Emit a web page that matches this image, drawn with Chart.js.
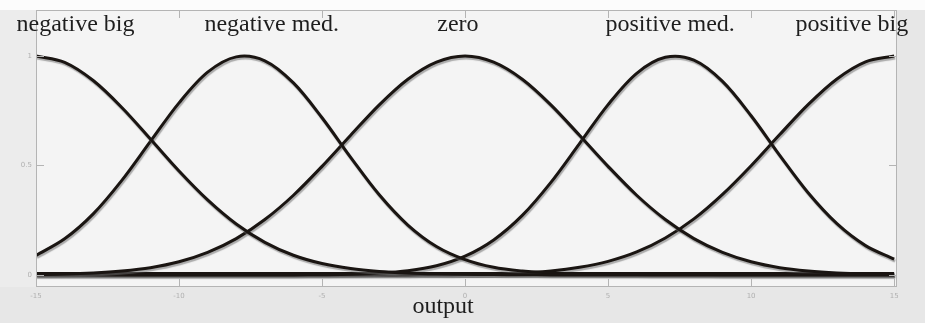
<!DOCTYPE html>
<html>
<head>
<meta charset="utf-8">
<script src="https://cdn.jsdelivr.net/npm/chart.js@4"></script>
<style>
  html, body { margin: 0; padding: 0; background: #e7e7e7; }
  #wrap { width: 925px; height: 323px; }
</style>
</head>
<body>
<div id="wrap"><canvas id="mf"></canvas></div>
<script>
// universe of discourse for "output"
const xValues = [-15,-14,-13,-12,-11,-10,-9,-8,-7,-6,-5,-4,-3,-2,-1,0,1,2,3,4,5,6,7,8,9,10,11,12,13,14,15];

// membership degrees
const negBig = [1,0.971,0.888,0.765,0.621,0.475,0.343,0.233,0.149,0.090,0.052,0.029,0.016,0.009,0.005,0.003,0.002,0.001,0,0,0,0,0,0,0,0,0,0,0,0,0];
const negMed = [0.089,0.165,0.279,0.432,0.610,0.786,0.926,0.996,0.978,0.877,0.718,0.537,0.366,0.228,0.130,0.070,0.035,0.018,0.009,0.005,0.003,0.002,0.001,0.001,0,0,0,0,0,0,0];
const zero   = [0.002,0.004,0.009,0.018,0.033,0.060,0.103,0.166,0.253,0.364,0.496,0.638,0.777,0.894,0.972,1,0.972,0.894,0.777,0.638,0.496,0.364,0.253,0.166,0.103,0.060,0.033,0.018,0.009,0.004,0.002];
const posMed = [0,0,0,0,0,0,0,0,0,0,0.001,0.003,0.008,0.019,0.042,0.086,0.160,0.272,0.423,0.600,0.778,0.921,0.994,0.981,0.884,0.727,0.546,0.374,0.234,0.134,0.072];
const posBig = [0,0,0,0,0,0,0,0,0,0,0,0,0,0,0.001,0.002,0.004,0.009,0.018,0.035,0.062,0.105,0.169,0.256,0.368,0.499,0.641,0.779,0.895,0.973,1];

const mfNames = ['negative big', 'negative med.', 'zero', 'positive med.', 'positive big'];
const mfSeries = [negBig, negMed, zero, posMed, posBig];

// flat line along the bottom
const baseX = [-15, 15];
const baseY = [0.004, 0.004];

const xTicks = [-15, -10, -5, 0, 5, 10, 15];
const yTicks = [0, 0.5, 1];
const axisName = 'output';

const ink = '#1a1512';

const datasets = mfSeries.map((ys, i) => ({
  label: mfNames[i],
  data: xValues.map((x, j) => ({ x: x, y: ys[j] })),
  borderColor: ink,
  borderWidth: 3,
  pointRadius: 0,
  tension: 0.33,
  fill: false
}));
datasets.push({
  label: 'base',
  data: baseX.map((x, j) => ({ x: x, y: baseY[j] })),
  borderColor: ink,
  borderWidth: 4,
  pointRadius: 0,
  fill: false
});

// backgrounds, frame, inward ticks and the text labels
const decor = {
  id: 'decor',
  beforeDraw(chart) {
    const ctx = chart.ctx, a = chart.chartArea;
    ctx.save();
    ctx.fillStyle = '#e7e7e7';
    ctx.fillRect(0, 0, chart.width, chart.height);
    ctx.fillStyle = '#ececec';
    ctx.fillRect(0, 0, a.left, a.bottom);
    ctx.fillStyle = '#fcfcfc';
    ctx.fillRect(0, 0, chart.width, a.top);
    ctx.fillStyle = '#f4f4f4';
    ctx.fillRect(a.left, a.top, a.right - a.left, a.bottom - a.top);
    ctx.restore();
  },
  beforeDatasetsDraw(chart) {
    const ctx = chart.ctx;
    ctx.save();
    ctx.shadowColor = 'rgba(110,110,110,0.55)';
    ctx.shadowOffsetX = 1;
    ctx.shadowOffsetY = 2;
    ctx.shadowBlur = 1;
  },
  afterDatasetsDraw(chart) {
    chart.ctx.restore();
  },
  afterDraw(chart, args, opts) {
    const ctx = chart.ctx, a = chart.chartArea;
    const xs = chart.scales.x, ys = chart.scales.y;
    ctx.save();
    ctx.strokeStyle = '#b4b4b4';
    ctx.lineWidth = 1;
    ctx.strokeRect(a.left + 0.5, a.top + 0.5, a.right - a.left - 1, a.bottom - a.top - 1);
    ctx.beginPath();
    xTicks.forEach(v => {
      const px = Math.round(xs.getPixelForValue(v)) + 0.5;
      ctx.moveTo(px, a.bottom); ctx.lineTo(px, a.bottom - 8);
      ctx.moveTo(px, a.top); ctx.lineTo(px, a.top + 8);
    });
    yTicks.forEach(v => {
      const py = Math.round(ys.getPixelForValue(v)) + 0.5;
      ctx.moveTo(a.left, py); ctx.lineTo(a.left + 8, py);
      ctx.moveTo(a.right, py); ctx.lineTo(a.right - 8, py);
    });
    ctx.stroke();

    ctx.fillStyle = '#1e1e1e';
    ctx.font = '24px "Liberation Serif", "Times New Roman", serif';
    ctx.textAlign = 'center';
    ctx.textBaseline = 'alphabetic';
    mfNames.forEach((name, i) => {
      ctx.fillText(name, xs.getPixelForValue(opts.nameAt[i]), 31);
    });
    ctx.fillText(axisName, xs.getPixelForValue(opts.titleAt), 313);
    ctx.restore();
  }
};

new Chart(document.getElementById('mf'), {
  type: 'line',
  data: { datasets },
  plugins: [decor],
  options: {
    responsive: true,
    maintainAspectRatio: false,
    animation: false,
    layout: { padding: { top: 10, right: 28, left: 0, bottom: 0 } },
    plugins: {
      legend: { display: false },
      tooltip: { enabled: false },
      decor: { nameAt: [-13.62, -6.76, -0.25, 7.17, 13.52], titleAt: -0.77 }
    },
    scales: {
      x: {
        type: 'linear',
        min: -15,
        max: 15.1,
        afterBuildTicks: s => { s.ticks = xTicks.map(v => ({ value: v })); },
        afterFit: s => { s.height = 36; },
        grid: { display: false, drawTicks: false },
        border: { display: false },
        ticks: {
          padding: 5,
          color: '#b0b0b0',
          font: { family: 'DejaVu Sans', size: 7 },
          maxRotation: 0
        }
      },
      y: {
        min: -0.055,
        max: 1.21,
        afterBuildTicks: s => { s.ticks = yTicks.map(v => ({ value: v })); },
        afterFit: s => { s.width = 36; },
        grid: { display: false, drawTicks: false },
        border: { display: false },
        ticks: {
          padding: 4,
          color: '#b0b0b0',
          font: { family: 'DejaVu Sans', size: 7 },
          callback: v => String(v)
        }
      }
    }
  }
});
</script>
</body>
</html>
